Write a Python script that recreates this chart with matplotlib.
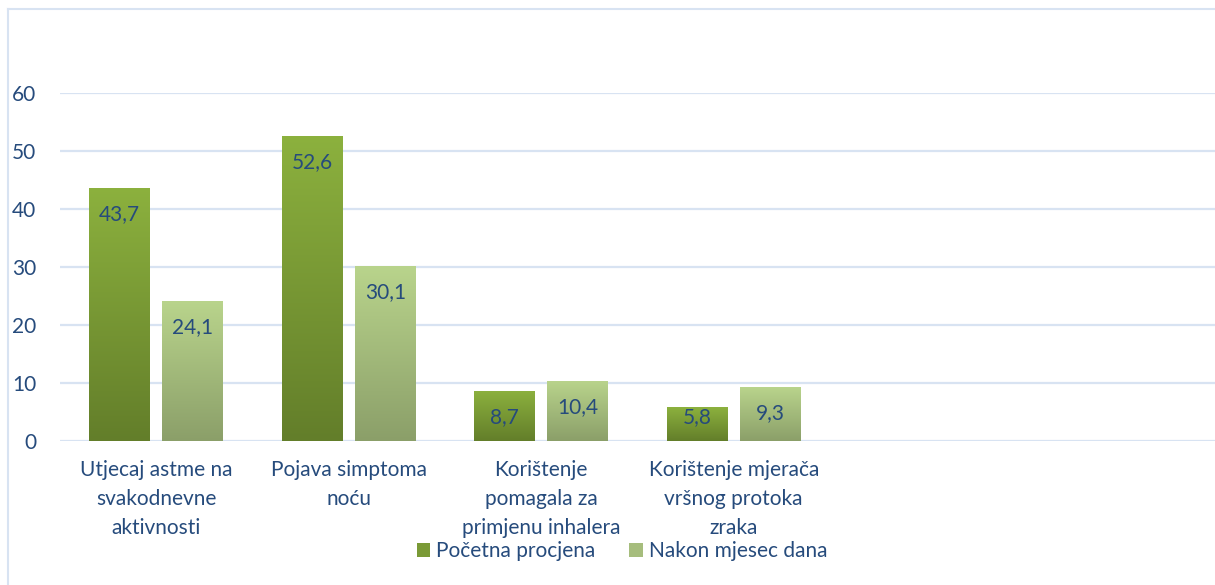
import numpy as np
import matplotlib
matplotlib.use('Agg')
import matplotlib.pyplot as plt
from matplotlib.colors import LinearSegmentedColormap
from matplotlib.lines import Line2D
from matplotlib.patches import Patch

categories = ['Utjecaj astme na\nsvakodnevne\naktivnosti',
              'Pojava simptoma\nnoću',
              'Korištenje\npomagala za\nprimjenu inhalera',
              'Korištenje mjerača\nvršnog protoka\nzraka']
series_names = ['Početna procjena', 'Nakon mjesec dana']
pocetna = [43.7, 52.6, 8.7, 5.8]
nakon = [24.1, 30.1, 10.4, 9.3]
labels_pocetna = ['43,7', '52,6', '8,7', '5,8']
labels_nakon = ['24,1', '30,1', '10,4', '9,3']
n_slots = 6  # two empty slots on the right, as in the original

text_col = '#264b7c'
grid_col = '#d8e3f2'
# (bottom, top) gradient colours
grad_dark = ('#637e2a', '#8cb13e')
grad_light = ('#8b9f69', '#b9d48c')
fs = 15

plt.rcParams['font.family'] = ['Lato', 'DejaVu Sans']

fig = plt.figure(figsize=(12.15, 5.85), dpi=100)
ax = fig.add_axes([60 / 1215, 1 - 441 / 585, 1 - 60 / 1215, (441 - 93) / 585])

x = np.arange(len(categories))
w = 0.316
off = 0.19


def gradient_bars(xs, vals, colors):
    bars = ax.bar(xs, vals, width=w, color='none', edgecolor='none', zorder=3)
    cmap = LinearSegmentedColormap.from_list('g', list(colors))
    grad = np.linspace(0, 1, 256).reshape(-1, 1)
    for b in bars:
        x0, y0 = b.get_x(), b.get_y()
        im = ax.imshow(grad, cmap=cmap, origin='lower', aspect='auto',
                       extent=(x0, x0 + b.get_width(), y0, y0 + b.get_height()),
                       zorder=3)
        im.set_clip_path(b)
    return bars


b1 = gradient_bars(x - off, pocetna, grad_dark)
b2 = gradient_bars(x + off, nakon, grad_light)

# inside-end labels, kept above the base for short bars (like Excel does)
for xs, vals, labs in [(x - off, pocetna, labels_pocetna), (x + off, nakon, labels_nakon)]:
    for xi, v, lab in zip(xs, vals, labs):
        ax.text(xi, max(v - 4.5, 4.1), lab, ha='center', va='center', color=text_col,
                fontsize=fs, zorder=5)

ax.set_xlim(-0.5, n_slots - 0.5)
ax.set_ylim(0, 60)
ax.set_yticks(range(0, 61, 10))
ax.yaxis.grid(True, color=grid_col, linewidth=1.6, zorder=0)
ax.set_axisbelow(True)
for s in ax.spines.values():
    s.set_visible(False)
ax.tick_params(axis='both', length=0, colors=text_col, labelsize=fs)
ax.tick_params(axis='y', pad=17)
ax.set_xticks(x)
ax.set_xticklabels(categories, linespacing=1.55, color=text_col, fontsize=fs)
ax.tick_params(axis='x', pad=14)

handles = [Patch(facecolor='#7a9a36', edgecolor='none'),
           Patch(facecolor='#a6bd7d', edgecolor='none')]
fig.legend(handles, series_names, loc='center', bbox_to_anchor=(622 / 1215, 1 - 551 / 585),
           ncol=2, frameon=False, fontsize=fs, labelcolor=text_col,
           handlelength=0.65, handleheight=0.65, handletextpad=0.3, columnspacing=1.6)

# outer chart border (only left and top visible in the crop)
fig.add_artist(Line2D([8 / 1215, 8 / 1215], [0, 1 - 9 / 585], color=grid_col, lw=1.5,
                      transform=fig.transFigure))
fig.add_artist(Line2D([8 / 1215, 1], [1 - 9 / 585, 1 - 9 / 585], color=grid_col, lw=1.5,
                      transform=fig.transFigure))

fig.savefig('out.png', dpi=100)
